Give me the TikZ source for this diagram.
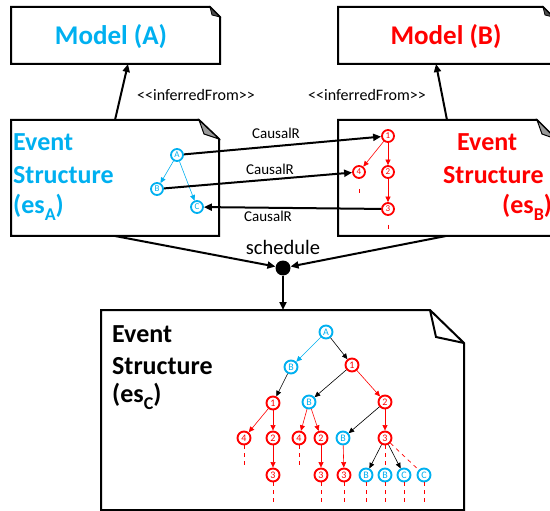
\documentclass[tikz,border=0pt]{standalone}
\usepackage{fontspec}
\setmainfont{Carlito}
\usetikzlibrary{arrows.meta}
\definecolor{cy}{RGB}{0,176,240}
\definecolor{rd}{RGB}{255,0,0}
\newcommand\mysub[1]{\raisebox{-7pt}{\fontsize{18}{18}\selectfont #1}}
\begin{document}
\begin{tikzpicture}[x=1pt,y=-1pt,
  box/.style={draw, line width=2pt, fill=white, line join=miter},
  bigtxt/.style={anchor=base west, inner sep=0pt, font=\bfseries\fontsize{26}{26}\selectfont},
  ev/.style={circle, draw, line width=1.8pt, minimum size=12pt, inner sep=0pt, font=\fontsize{9}{9}\selectfont},
  evA/.style={ev, draw=cy, text=cy},
  evB/.style={ev, draw=rd, text=rd},
  tv/.style={circle, draw, line width=1.9pt, minimum size=13pt, inner sep=0pt, font=\fontsize{10}{10}\selectfont},
  tvA/.style={tv, draw=cy, text=cy},
  tvB/.style={tv, draw=rd, text=rd},
  conn/.style={line width=2pt, -{Triangle[length=8pt,width=7pt]}},
  tedge/.style={line width=0.6pt, -{Triangle[length=5.5pt,width=5pt]}},
  dsh/.style={rd, line width=0.7pt, dash pattern=on 4pt off 4pt},
  lbl/.style={inner sep=0pt, font=\fontsize{15}{15}\selectfont}
]
\useasboundingbox (0,0) rectangle (550,511);
\clip (0,0) rectangle (550,511);

% Model boxes
\draw[box] (11,7) -- (210,7) -- (220,17) -- (220,64) -- (11,64) -- cycle;
\filldraw[line width=0.8pt, fill=black!70] (210,7) -- (212,15) -- (220,17) -- cycle;
\draw[box] (338,7) -- (543,7) -- (553,17) -- (553,64) -- (338,64) -- cycle;
\filldraw[line width=0.8pt, fill=black!70] (543,7) -- (545,15) -- (553,17) -- cycle;
\node[anchor=base, inner sep=0pt, cy, font=\bfseries\fontsize{27}{27}\selectfont] (mAt) at (111,45) {Model (A)};
\node[anchor=base, inner sep=0pt, rd, font=\bfseries\fontsize{27}{27}\selectfont] (mBt) at (446,45) {Model (B)};

% es boxes
\draw[box] (11,120) -- (199,120) -- (219,139) -- (219,236) -- (11,236) -- cycle;
\filldraw[line width=1pt, fill=black!40] (199,120) -- (204,134) -- (219,139) -- cycle;
\draw[box] (338,120) -- (537,120) -- (556,139) -- (556,236) -- (338,236) -- cycle;
\filldraw[line width=1pt, fill=black!40] (537,120) -- (542,134) -- (556,139) -- cycle;
\draw[box] (101,310) -- (430,310) -- (464,343) -- (464,510) -- (101,510) -- cycle;
\draw[line width=2pt, line join=miter] (430,310) -- (436,337) -- (464,343);

% texts
\node[bigtxt, cy] (esAt1) at (13,151) {Event};
\node[bigtxt, cy] (esAt2) at (13,184) {Structure};
\node[bigtxt, cy] (esAt3) at (13,214) {(es\mysub{A})};
\node[bigtxt, rd] (esBt1) at (457,151) {Event};
\node[bigtxt, rd] (esBt2) at (443,184) {Structure};
\node[bigtxt, rd] (esBt3) at (502,214) {(es\mysub{B})};
\node[bigtxt] (esCt1) at (112,342) {Event};
\node[bigtxt] (esCt2) at (112,374) {Structure};
\node[bigtxt] (esCt3) at (112,402) {(es\mysub{C})};

% inferredFrom
\coordinate (esAtop) at (115,120);
\coordinate (mAbot) at (128,64);
\coordinate (esBtop) at (447,120);
\coordinate (mBbot) at (436,64);
\draw[conn] (esAtop) -- (mAbot);
\draw[conn] (esBtop) -- (mBbot);
\node[lbl, font=\fontsize{16}{16}\selectfont] (ifA) at (196,95) {<\kern0pt<inferredFrom>\kern0pt>};
\node[lbl, font=\fontsize{16}{16}\selectfont] (ifB) at (367,95) {<\kern0pt<inferredFrom>\kern0pt>};

% es_A events
\node[evA] (aA) at (177,155) {A};
\node[evA] (aB) at (157,189) {B};
\node[evA] (aC) at (197,207) {C};
\draw[tedge, cy] (aA) -- (aB);
\draw[tedge, cy] (aA) -- (aC);

% es_B events
\node[evB] (b1) at (388,136) {1};
\node[evB] (b4) at (359,172) {4};
\node[evB] (b2) at (388,172) {2};
\node[evB] (b3) at (388,209) {3};
\draw[tedge, rd] (b1) -- (b4);
\draw[tedge, rd] (b1) -- (b2);
\draw[tedge, rd] (b2) -- (b3);
\coordinate (b4d1) at (359,189); \coordinate (b4d2) at (359,193);
\coordinate (b3d1) at (388,225); \coordinate (b3d2) at (388,229);
\draw[dsh] (b4d1) -- (b4d2);
\draw[dsh] (b3d1) -- (b3d2);

% CausalR
\draw[conn] (aA) -- (b1);
\draw[conn] (aB) -- (b4);
\draw[conn] (b3) -- (aC);
\node[lbl] (c1) at (276,133) {CausalR};
\node[lbl] (c2) at (270,169) {CausalR};
\node[lbl] (c3) at (268,216) {CausalR};

% schedule
\node[circle, fill=black, inner sep=0pt, minimum size=15pt] (sch) at (283,268) {};
\node[inner sep=0pt, font=\fontsize{20.5}{20.5}\selectfont] (schl) at (283,247) {schedule};
\coordinate (esAbot) at (115,236);
\coordinate (esBbot) at (446,236);
\coordinate (esCtop) at (283,310);
\draw[conn] (esAbot) -- (sch);
\draw[conn] (esBbot) -- (sch);
\draw[conn] (sch) -- (esCtop);

% tree
\node[tvA] (tA) at (326,332) {A};
\node[tvA] (tB1) at (291,367) {B};
\node[tvB] (t1a) at (352,365) {1};
\node[tvB] (t1b) at (273,403) {1};
\node[tvA] (tB2) at (309,402) {B};
\node[tvB] (t2a) at (385,402) {2};
\node[tvB] (t4a) at (244,438) {4};
\node[tvB] (t2b) at (273,438) {2};
\node[tvB] (t4b) at (299,438) {4};
\node[tvB] (t2c) at (321,438) {2};
\node[tvA] (tB3) at (343,438) {B};
\node[tvB] (t3a) at (385,438) {3};
\node[tvB] (t3b) at (273,475) {3};
\node[tvB] (t3c) at (321,475) {3};
\node[tvB] (t3d) at (344,475) {3};
\node[tvA] (tB4) at (366,475) {B};
\node[tvA] (tB5) at (385,475) {B};
\node[tvA] (tC1) at (404,475) {C};
\node[tvA] (tC2) at (424,475) {C};

\draw[tedge, cy] (tA) -- (tB1);
\draw[tedge] (tA) -- (t1a);
\draw[tedge] (tB1) -- (t1b);
\draw[tedge] (t1a) -- (tB2);
\draw[tedge, rd] (t1a) -- (t2a);
\draw[tedge, rd] (t1b) -- (t4a);
\draw[tedge, rd] (t1b) -- (t2b);
\draw[tedge, rd] (tB2) -- (t4b);
\draw[tedge, rd] (tB2) -- (t2c);
\draw[tedge] (t2a) -- (tB3);
\draw[tedge, rd] (t2a) -- (t3a);
\draw[tedge, rd] (t2b) -- (t3b);
\draw[tedge, rd] (t2c) -- (t3c);
\draw[tedge, rd] (tB3) -- (t3d);
\draw[tedge] (t3a) -- (tB4);
\draw[tedge] (t3a) -- (tC1);
\draw[dsh] (t3a) -- (tB5);
\draw[dsh] (t3a) -- (tC2);

\foreach \n/\x in {t4a/244, t4b/299}{
  \coordinate (\n e) at (\x,466);
  \draw[dsh] (\n) -- (\n e);
}
\foreach \n/\x in {t3b/273, t3c/321, t3d/344, tB4/366, tB5/385, tC1/404, tC2/424}{
  \coordinate (\n e) at (\x,505);
  \draw[dsh] (\n) -- (\n e);
}
\end{tikzpicture}
\end{document}
